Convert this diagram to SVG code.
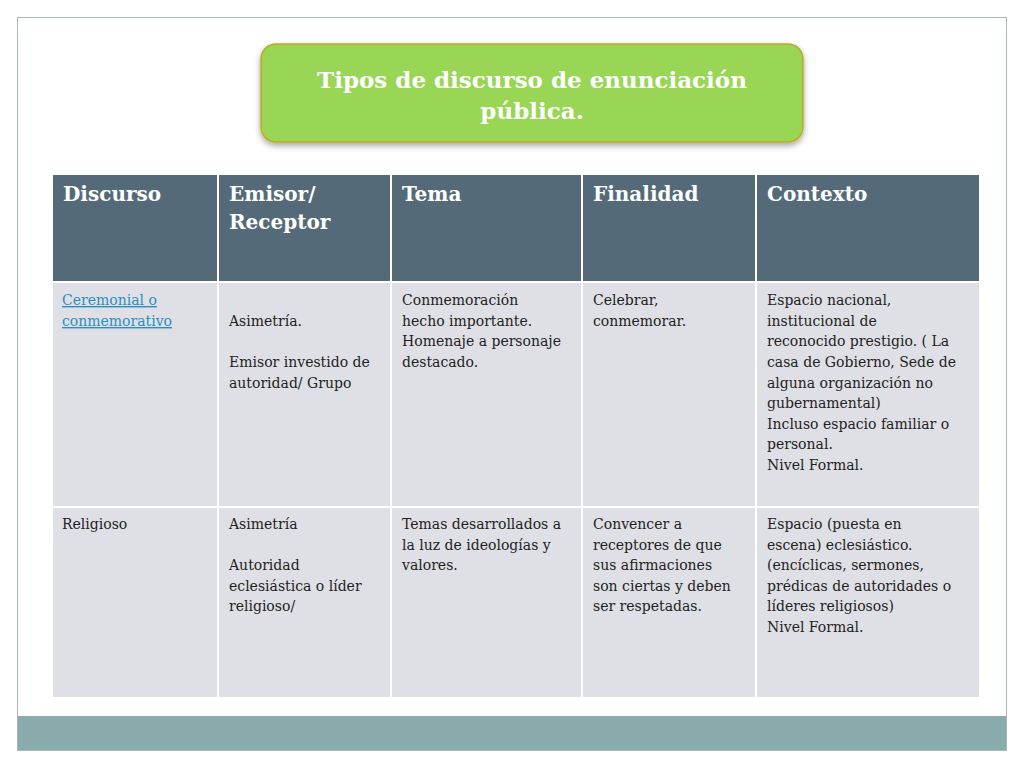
<svg xmlns="http://www.w3.org/2000/svg" width="1024" height="768" viewBox="0 0 1024 768">
<style>
.h{font-family:"DejaVu Serif",Georgia,serif;font-weight:bold;font-size:20px;fill:#fff}
.b{font-family:"DejaVu Serif",Georgia,serif;font-size:14px;fill:#222}
.l{fill:#2a8fbf;text-decoration:underline}
.hd{fill:#546a79}
.c{fill:#dfe0e5}
</style>
<defs><filter id="s" x="-10%" y="-10%" width="120%" height="130%"><feDropShadow dx="0" dy="3" stdDeviation="3" flood-opacity="0.35"/></filter></defs>
<rect width="1024" height="768" fill="#fff"/>
<rect x="17.5" y="17.5" width="989" height="733" fill="#fff" stroke="#a9b9b9"/>
<rect x="18" y="716" width="988" height="34" fill="#8aabab"/>
<g id="title">
<rect x="261" y="44" width="542" height="98" rx="15" fill="#99d654" stroke="#c2a823" stroke-width="1.5" filter="url(#s)"/>
<text x="532" y="88" text-anchor="middle" style="font-family:'DejaVu Serif',Georgia,serif;font-weight:bold;font-size:23px;fill:#fff">Tipos de discurso de enunciación</text>
<text x="532" y="119" text-anchor="middle" style="font-family:'DejaVu Serif',Georgia,serif;font-weight:bold;font-size:23px;fill:#fff">pública.</text>
</g>
<g id="table">
<rect class="hd" x="53" y="175" width="164" height="106"/>
<rect class="hd" x="219" y="175" width="171" height="106"/>
<rect class="hd" x="392" y="175" width="189" height="106"/>
<rect class="hd" x="583" y="175" width="172" height="106"/>
<rect class="hd" x="757" y="175" width="222" height="106"/>
<rect class="c" x="53" y="283" width="164" height="223"/>
<rect class="c" x="219" y="283" width="171" height="223"/>
<rect class="c" x="392" y="283" width="189" height="223"/>
<rect class="c" x="583" y="283" width="172" height="223"/>
<rect class="c" x="757" y="283" width="222" height="223"/>
<rect class="c" x="53" y="508" width="164" height="189"/>
<rect class="c" x="219" y="508" width="171" height="189"/>
<rect class="c" x="392" y="508" width="189" height="189"/>
<rect class="c" x="583" y="508" width="172" height="189"/>
<rect class="c" x="757" y="508" width="222" height="189"/>
<text class="h" x="63" y="201">Discurso</text>
<text class="h" x="229" y="201">Emisor/</text>
<text class="h" x="229" y="229">Receptor</text>
<text class="h" x="402" y="201">Tema</text>
<text class="h" x="593" y="201">Finalidad</text>
<text class="h" x="767" y="201">Contexto</text>
<text class="b l" x="62" y="305">Ceremonial o</text>
<text class="b l" x="62" y="326">conmemorativo</text>
<text class="b" x="229" y="326">Asimetría.</text>
<text class="b" x="229" y="367">Emisor investido de</text>
<text class="b" x="229" y="388">autoridad/ Grupo</text>
<text class="b" x="402" y="305">Conmemoración</text>
<text class="b" x="402" y="326">hecho importante.</text>
<text class="b" x="402" y="346">Homenaje a personaje</text>
<text class="b" x="402" y="367">destacado.</text>
<text class="b" x="593" y="305">Celebrar,</text>
<text class="b" x="593" y="326">conmemorar.</text>
<text class="b" x="767" y="305">Espacio  nacional,</text>
<text class="b" x="767" y="326">institucional de</text>
<text class="b" x="767" y="346">reconocido prestigio. ( La</text>
<text class="b" x="767" y="367">casa de Gobierno, Sede de</text>
<text class="b" x="767" y="388">alguna organización no</text>
<text class="b" x="767" y="408">gubernamental)</text>
<text class="b" x="767" y="429">Incluso espacio familiar o</text>
<text class="b" x="767" y="449">personal.</text>
<text class="b" x="767" y="470">Nivel Formal.</text>
<text class="b" x="62" y="529">Religioso</text>
<text class="b" x="229" y="529">Asimetría</text>
<text class="b" x="229" y="570">Autoridad</text>
<text class="b" x="229" y="591">eclesiástica o líder</text>
<text class="b" x="229" y="611">religioso/</text>
<text class="b" x="402" y="529">Temas desarrollados a</text>
<text class="b" x="402" y="550">la luz de ideologías y</text>
<text class="b" x="402" y="570">valores.</text>
<text class="b" x="593" y="529">Convencer a</text>
<text class="b" x="593" y="550">receptores de que</text>
<text class="b" x="593" y="570">sus afirmaciones</text>
<text class="b" x="593" y="591">son ciertas y deben</text>
<text class="b" x="593" y="611">ser respetadas.</text>
<text class="b" x="767" y="529">Espacio  (puesta en</text>
<text class="b" x="767" y="550">escena) eclesiástico.</text>
<text class="b" x="767" y="570">(encíclicas, sermones,</text>
<text class="b" x="767" y="591">prédicas de autoridades o</text>
<text class="b" x="767" y="611">líderes religiosos)</text>
<text class="b" x="767" y="632">Nivel Formal.</text>
</g>
</svg>
